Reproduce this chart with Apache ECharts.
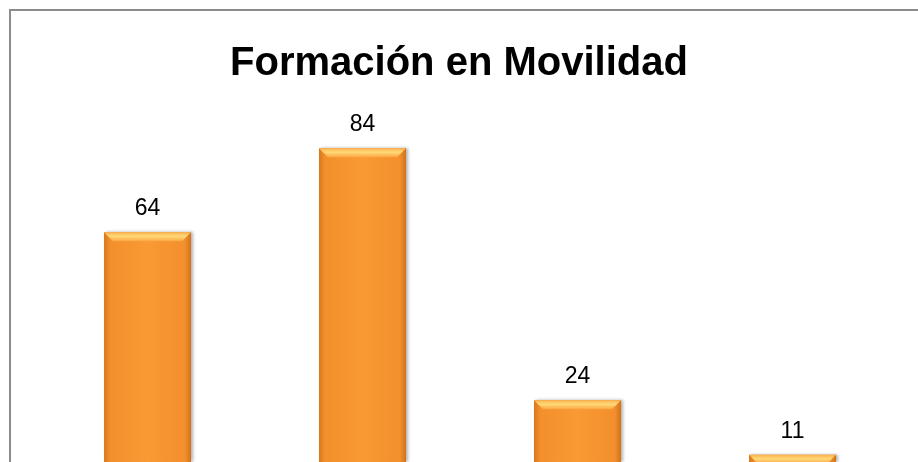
<!DOCTYPE html>
<html>
<head>
<meta charset="utf-8">
<script src="https://cdn.jsdelivr.net/npm/echarts@6/dist/echarts.min.js"></script>
<style>
  html, body { margin: 0; padding: 0; background: #fff; }
  #chart { width: 918px; height: 462px; }
</style>
</head>
<body>
<div id="chart"></div>
<script>
  // datos del gráfico
  const categories = ['A', 'B', 'C', 'D']
  const values = [64, 84, 24, 11]
  const chartTitle = 'Formación en Movilidad'

  const chart = echarts.init(document.getElementById('chart'))

  // bisel superior de cada barra
  function renderBevel(params, api) {
    const top = api.coord([api.value(0), api.value(1)])
    const w = 87
    const b = 9
    const l = top[0] - w / 2
    const r = top[0] + w / 2
    return {
      type: 'polygon',
      shape: {
        points: [[l, top[1]], [r, top[1]], [r - b, top[1] + b], [l + b, top[1] + b]]
      },
      style: {
        fill: new echarts.graphic.LinearGradient(0, 0, 0, 1, [
          { offset: 0, color: '#fbb24c' },
          { offset: 0.45, color: '#ffd979' },
          { offset: 1, color: '#fca541' }
        ])
      },
      silent: true
    }
  }

  chart.setOption({
    animation: false,
    title: {
      text: chartTitle,
      left: 'center',
      top: 39,
      textStyle: {
        fontFamily: 'Liberation Sans',
        fontWeight: 'bold',
        fontSize: 40,
        color: '#000'
      }
    },
    graphic: [{
      type: 'rect',
      shape: { x: 10, y: 10, width: 920, height: 470 },
      style: { fill: 'none', stroke: '#8c8c8c', lineWidth: 2 },
      silent: true
    }],
    // el cero del eje queda por debajo del borde inferior (gráfico recortado)
    grid: {
      left: 40,
      right: 18,
      top: 81,
      bottom: 0
    },
    xAxis: {
      type: 'category',
      data: categories,
      axisLine: { show: false },
      axisTick: { show: false },
      axisLabel: { show: false }
    },
    yAxis: {
      type: 'value',
      min: 9.3,
      max: 100,
      show: false,
      splitLine: { show: false }
    },
    series: [
      {
        type: 'bar',
        data: values,
        barWidth: 87,
        itemStyle: {
          color: new echarts.graphic.LinearGradient(0, 0, 1, 0, [
            { offset: 0, color: '#d9781b' },
            { offset: 0.07, color: '#f38f2c' },
            { offset: 0.5, color: '#f99a34' },
            { offset: 0.93, color: '#f38f2c' },
            { offset: 1, color: '#d27219' }
          ]),
          shadowBlur: 3,
          shadowColor: 'rgba(0,0,0,0.3)',
          shadowOffsetX: 2
        },
        label: {
          show: true,
          position: 'top',
          distance: 12,
          fontFamily: 'Liberation Sans',
          fontSize: 23,
          color: '#000'
        }
      },
      {
        type: 'custom',
        renderItem: renderBevel,
        data: values.map((v, i) => [i, v]),
        encode: { x: 0, y: 1 },
        z: 3
      }
    ]
  })
</script>
</body>
</html>
